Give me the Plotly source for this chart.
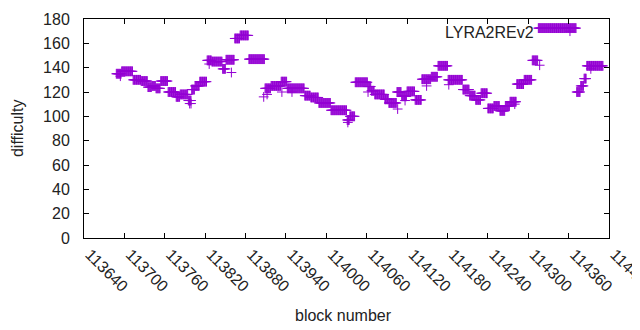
import plotly.graph_objects as go

# Runs of constant difficulty: [start block, end block), difficulty
run_start = [113688, 113696, 113713, 113725, 113735, 113741, 113747, 113754, 113765, 113777,
             113783, 113795, 113800, 113805, 113812, 113823, 113830, 113846, 113851, 113864,
             113872, 113885, 113909, 113918, 113933, 113942, 113968, 113977, 113989, 114007,
             114031, 114035, 114043, 114062, 114067, 114072, 114087, 114093, 114105, 114112,
             114120, 114132, 114142, 114156, 114166, 114181, 114203, 114213, 114222, 114230,
             114240, 114249, 114258, 114266, 114273, 114283, 114294, 114306, 114315, 114372,
             114378, 114383, 114387]
run_end = [113696, 113713, 113725, 113735, 113741, 113747, 113754, 113765, 113777, 113783,
           113795, 113800, 113805, 113812, 113823, 113830, 113846, 113851, 113864, 113872,
           113885, 113909, 113918, 113933, 113942, 113968, 113977, 113989, 114007, 114031,
           114035, 114043, 114062, 114067, 114072, 114087, 114093, 114105, 114112, 114120,
           114132, 114142, 114156, 114166, 114181, 114203, 114213, 114222, 114230, 114240,
           114249, 114258, 114266, 114273, 114283, 114294, 114306, 114315, 114372, 114378,
           114383, 114387, 114412]
run_diff = [135, 137, 130, 129, 124, 125, 123, 129, 120, 116,
            118, 113, 122, 125, 128.5, 146, 145, 139, 146.5, 164,
            166.5, 147, 123, 125, 128.5, 123, 117, 115.5, 111, 105,
            97, 100, 128, 124.5, 121, 118, 114, 111, 120, 116.5,
            120.5, 113.5, 130.5, 132.5, 141.5, 130, 122, 117, 113.5, 119,
            106.5, 108.5, 104.5, 108.5, 112, 126.5, 130, 146, 172.5, 120,
            125, 131, 141.5]

# Isolated blocks that stand apart from their runs
outlier_block = [113694, 113797, 113799, 113826, 113859, 113907, 113912, 113934, 113949,
                 114032, 114062, 114106, 114117, 114149, 114182, 114280, 114317, 114362, 114393]
outlier_diff = [133, 110.5, 110.5, 143, 136, 116, 118, 120, 120,
                95, 120, 106, 113, 125, 126, 110, 142, 170, 139]

x_vals, y_vals = [], []
for s, e, d in zip(run_start, run_end, run_diff):
    for b in range(s, e):
        x_vals.append(b)
        y_vals.append(d)
x_vals += outlier_block
y_vals += outlier_diff

x_ticks = [113640, 113700, 113760, 113820, 113880, 113940, 114000, 114060,
           114120, 114180, 114240, 114300, 114360, 114420]
y_ticks = [0, 20, 40, 60, 80, 100, 120, 140, 160, 180]

color = "#9400D3"
font = dict(family="Liberation Sans, Arial, sans-serif", size=16, color="#222")

fig = go.Figure()
fig.add_trace(go.Scatter(
    x=x_vals, y=y_vals, mode="markers", name="LYRA2REv2",
    marker=dict(symbol="cross-thin", size=7, line=dict(color=color, width=1), color=color),
    showlegend=False, cliponaxis=False,
))

axis_common = dict(showline=True, linecolor="black", linewidth=1, mirror="ticks",
                   ticks="inside", ticklen=5, tickcolor="black", showgrid=False,
                   zeroline=False, tickfont=font, automargin=False)

fig.update_layout(
    width=632, height=322,
    margin=dict(l=76, r=31, t=11, b=92),
    paper_bgcolor="white", plot_bgcolor="white",
    font=font,
    xaxis=dict(range=[113640, 114420], tickvals=x_ticks, ticktext=[str(t) for t in x_ticks],
               tickangle=45, ticklabeloverflow="allow", ticklabelstandoff=0, ticklabelshift=6,
               **axis_common),
    yaxis=dict(range=[0, 180], tickvals=y_ticks, ticklabelstandoff=10, **axis_common),
    annotations=[
        dict(text="LYRA2REv2", xref="paper", yref="paper", x=0.86, y=0.94,
             xanchor="right", yanchor="middle", showarrow=False, font=font),
        dict(text="difficulty", xref="paper", yref="paper", x=-0.1276, y=0.502,
             xanchor="center", yanchor="middle", textangle=-90, showarrow=False, font=font),
        dict(text="block number", xref="paper", yref="paper", x=0.495, y=-0.356,
             xanchor="center", yanchor="middle", showarrow=False, font=font),
    ],
)

fig.write_html("out.html")
